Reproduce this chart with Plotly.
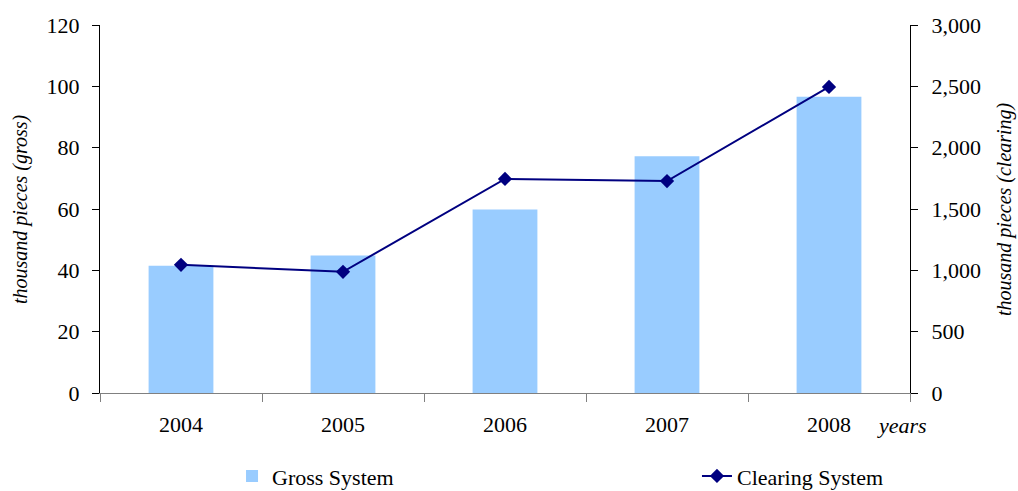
import plotly.graph_objects as go

years = ["2004", "2005", "2006", "2007", "2008"]
gross = [41.5, 44.8, 59.8, 77.2, 96.6]          # thousand pieces, left axis
clearing = [1045, 988, 1745, 1728, 2495]          # thousand pieces, right axis

FONT = "Times New Roman, Liberation Serif, serif"
FS = 22
TITLE_FS = 20

fig = go.Figure()

fig.add_trace(go.Bar(
    x=years, y=gross, name="Gross System",
    marker=dict(color="#99CCFF", line=dict(width=0)),
    width=0.4, legend="legend",
))

fig.add_trace(go.Scatter(
    x=years, y=clearing, name="Clearing System", yaxis="y2",
    mode="lines+markers",
    line=dict(color="#000080", width=2),
    marker=dict(symbol="diamond", size=11, color="#000080"),
    legend="legend2",
))

fig.update_layout(
    width=1018, height=491,
    margin=dict(l=100, r=108, t=25, b=98, autoexpand=False),
    plot_bgcolor="white", paper_bgcolor="white",
    font=dict(family=FONT, size=FS, color="black"),
    showlegend=True,
    xaxis=dict(
        type="category",
        showline=True, linecolor="#808080", linewidth=1,
        ticks="outside", tickson="boundaries", ticklen=8,
        tickcolor="#808080", tickwidth=1,
        showgrid=False, zeroline=False,
        tickfont=dict(family=FONT, size=FS),
        ticklabelstandoff=12,
    ),
    yaxis=dict(
        range=[0, 120], dtick=20,
        showline=True, linecolor="black", linewidth=1,
        ticks="outside", ticklen=7, tickcolor="black",
        showgrid=False, zeroline=False,
        tickfont=dict(family=FONT, size=FS),
        ticklabelstandoff=8,
    ),
    yaxis2=dict(
        range=[0, 3000], dtick=500, tickformat=",",
        overlaying="y", side="right",
        showline=True, linecolor="black", linewidth=1,
        ticks="outside", ticklen=7, tickcolor="black",
        showgrid=False, zeroline=False,
        tickfont=dict(family=FONT, size=FS),
        ticklabelstandoff=9,
    ),
    legend=dict(
        orientation="h", x=0.163, xanchor="left", y=-0.226, yanchor="middle",
        font=dict(family=FONT, size=FS), bgcolor="rgba(0,0,0,0)",
        visible=True,
    ),
    legend2=dict(
        orientation="h", x=0.737, xanchor="left", y=-0.226, yanchor="middle",
        font=dict(family=FONT, size=FS), bgcolor="rgba(0,0,0,0)",
        visible=True,
    ),
)

fig.add_annotation(
    text="<i>years</i>", xref="paper", yref="paper",
    x=0.99, y=-0.087, xanchor="center", yanchor="middle",
    showarrow=False, font=dict(family=FONT, size=FS),
)
fig.add_annotation(
    text="<i>thousand pieces (gross)</i>", xref="paper", yref="paper",
    x=(20 - 100) / 810, y=0.5, xanchor="center", yanchor="middle",
    textangle=-90, showarrow=False, font=dict(family=FONT, size=TITLE_FS),
)
fig.add_annotation(
    text="<i>thousand pieces (clearing)</i>", xref="paper", yref="paper",
    x=(1004 - 100) / 810, y=0.5, xanchor="center", yanchor="middle",
    textangle=-90, showarrow=False, font=dict(family=FONT, size=TITLE_FS),
)

fig.write_html("out.html")
